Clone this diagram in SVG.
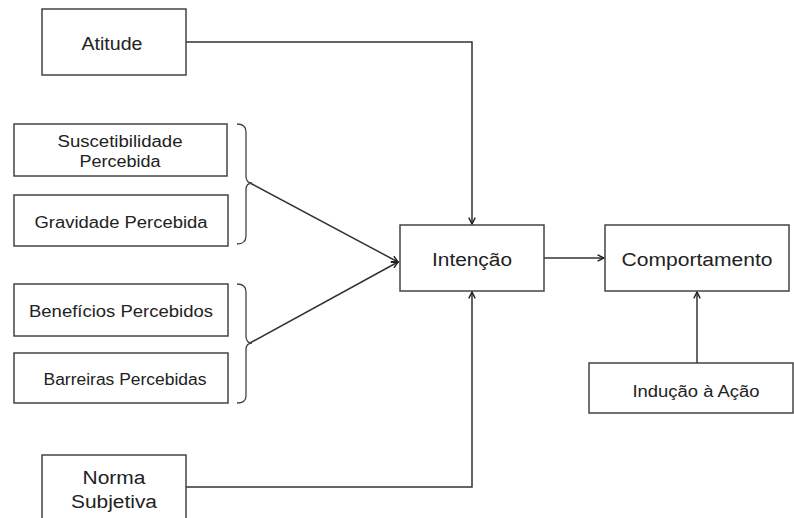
<svg xmlns="http://www.w3.org/2000/svg" width="794" height="518" viewBox="0 0 794 518">
  <style>
    .box { fill: #ffffff; stroke: #444; stroke-width: 1.5; }
    .edge { fill: none; stroke: #333; stroke-width: 1.5; }
    .brace { fill: none; stroke: #444; stroke-width: 1.3; }
    .lbl { font-family: "Liberation Sans", Arial, sans-serif; fill: #222; text-anchor: middle; dominant-baseline: central; }
    .big { font-size: 18px; }
    .small { font-size: 16px; }
  </style>
  <defs>
    <marker id="arrow" viewBox="0 0 10 10" refX="9" refY="5" markerWidth="8" markerHeight="8" markerUnits="userSpaceOnUse" orient="auto">
      <path d="M1,1 L9,5 L1,9" fill="none" stroke="#222" stroke-width="1.8"/>
    </marker>
  </defs>
  <rect width="794" height="518" fill="#ffffff"/>

  <g id="connectors">
    <polyline class="edge" points="186,42 472,42 472,224" marker-end="url(#arrow)"/>
    <polyline class="edge" points="186,487 472,487 472,292" marker-end="url(#arrow)"/>
    <line class="edge" x1="250" y1="183" x2="398" y2="262" marker-end="url(#arrow)"/>
    <line class="edge" x1="250" y1="343" x2="398" y2="262" marker-end="url(#arrow)"/>
    <line class="edge" x1="544" y1="258" x2="604" y2="258" marker-end="url(#arrow)"/>
    <line class="edge" x1="697" y1="363" x2="697" y2="292" marker-end="url(#arrow)"/>
  </g>

  <g id="braces">
    <path class="brace" d="M237,124 Q246,124 246,132 L246,176 Q246,183 252,183 Q246,183 246,190 L246,236 Q246,244 237,244"/>
    <path class="brace" d="M237,284 Q246,284 246,292 L246,336 Q246,343 252,343 Q246,343 246,350 L246,396 Q246,403 237,403"/>
  </g>

  <g id="atitude">
    <rect class="box" x="42" y="9" width="144" height="66"/>
    <text class="lbl big" x="112" y="44" textLength="61" lengthAdjust="spacingAndGlyphs">Atitude</text>
  </g>

  <g id="suscetibilidade">
    <rect class="box" x="14" y="124" width="213" height="52"/>
    <text class="lbl small" x="120" y="141.5" textLength="125" lengthAdjust="spacingAndGlyphs">Suscetibilidade</text>
    <text class="lbl small" x="120" y="161.5" textLength="81" lengthAdjust="spacingAndGlyphs">Percebida</text>
  </g>

  <g id="gravidade">
    <rect class="box" x="14" y="195" width="214" height="51"/>
    <text class="lbl small" x="121" y="222.5" textLength="173" lengthAdjust="spacingAndGlyphs">Gravidade Percebida</text>
  </g>

  <g id="beneficios">
    <rect class="box" x="14" y="284" width="214" height="52"/>
    <text class="lbl small" x="121" y="311" textLength="184" lengthAdjust="spacingAndGlyphs">Benefícios Percebidos</text>
  </g>

  <g id="barreiras">
    <rect class="box" x="14" y="353" width="214" height="50"/>
    <text class="lbl small" x="125" y="379" textLength="163" lengthAdjust="spacingAndGlyphs">Barreiras Percebidas</text>
  </g>

  <g id="intencao">
    <rect class="box" x="400" y="225" width="144" height="66"/>
    <text class="lbl big" x="472" y="260" textLength="80" lengthAdjust="spacingAndGlyphs">Intenção</text>
  </g>

  <g id="comportamento">
    <rect class="box" x="605" y="225" width="184" height="66"/>
    <text class="lbl big" x="697" y="260" textLength="151" lengthAdjust="spacingAndGlyphs">Comportamento</text>
  </g>

  <g id="inducao">
    <rect class="box" x="589" y="363" width="204" height="50"/>
    <text class="lbl small" x="696" y="391" textLength="127" lengthAdjust="spacingAndGlyphs">Indução à Ação</text>
  </g>

  <g id="norma">
    <rect class="box" x="42" y="455" width="144" height="70"/>
    <text class="lbl big" x="114" y="478" textLength="63" lengthAdjust="spacingAndGlyphs">Norma</text>
    <text class="lbl big" x="114" y="502" textLength="86" lengthAdjust="spacingAndGlyphs">Subjetiva</text>
  </g>
</svg>
